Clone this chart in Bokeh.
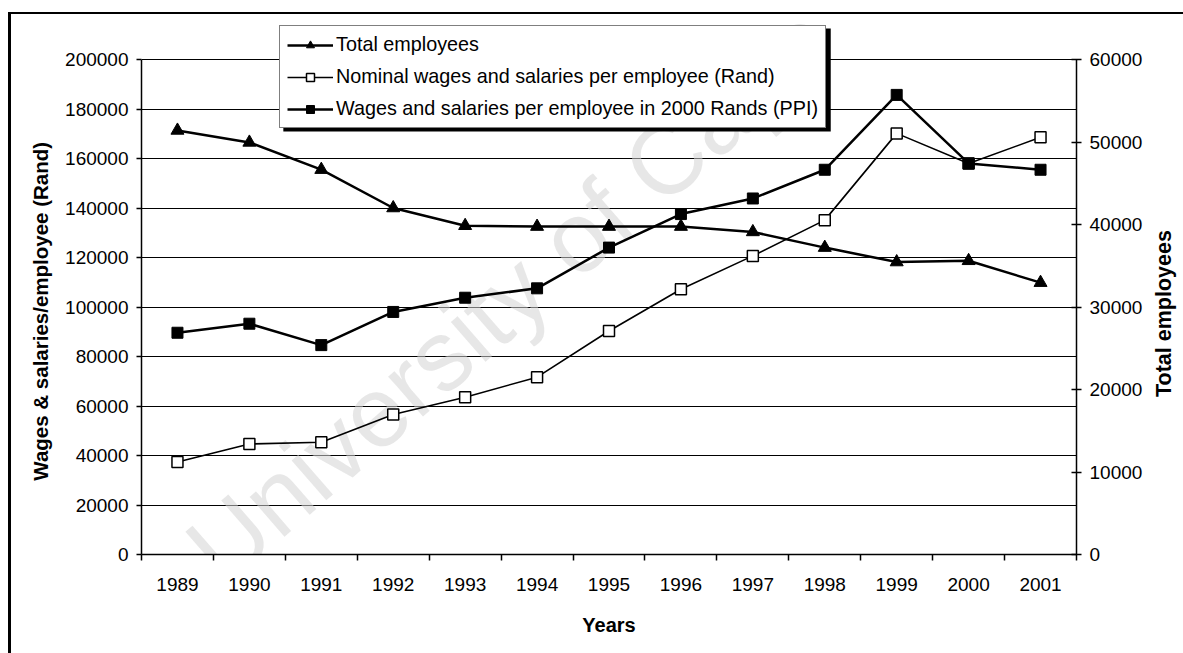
import math
from bokeh.plotting import figure
from bokeh.layouts import row
from bokeh.models import (LinearAxis, Range1d, FixedTicker, Legend, LegendItem,
                          Label, BoxAnnotation, NumeralTickFormatter, Div)
from bokeh.embed import file_html
from bokeh.resources import INLINE

# ---------------- data ----------------
years = [1989, 1990, 1991, 1992, 1993, 1994, 1995, 1996, 1997, 1998, 1999, 2000, 2001]
total_employees = [51400, 49950, 46650, 42000, 39850, 39750, 39750, 39750, 39100,
                   37200, 35450, 35600, 32950]
nominal_wages = [37400, 44650, 45350, 56550, 63550, 71650, 90300, 107150, 120650,
                 135100, 170150, 158000, 168550]
real_wages_2000 = [89600, 93250, 84600, 98000, 103750, 107550, 124000, 137550, 143850,
                   155450, 185700, 158000, 155450]
left_ticks = [0, 20000, 40000, 60000, 80000, 100000, 120000, 140000, 160000, 180000, 200000]
right_ticks = [0, 10000, 20000, 30000, 40000, 50000, 60000]
series_names = ["Total employees",
                "Nominal wages and salaries per employee (Rand)",
                "Wages and salaries per employee in 2000 Rands (PPI)"]
left_title = "Wages & salaries/employee (Rand)"
right_title = "Total employees"
x_title = "Years"
watermark = "University of Cape Town"

FONT = "Liberation Sans"
NBSP = "\u00a0"

# layout (pixels)
DIV_W = 38
FIG_W, FIG_H = 1172 - DIV_W, 639
FRAME_TOP_PAD = 8          # frame extends above the 200000 gridline to hold the legend
GRID_H = 495               # pixel height of the 0..200000 span
FRAME_H = 532              # pixel height of the frame
scale_up = FRAME_H / GRID_H

p = figure(width=FIG_W, height=FIG_H,
           x_range=Range1d(years[0] - 0.5, years[-1] + 0.5),
           y_range=Range1d(left_ticks[0], left_ticks[-1] * scale_up),
           output_backend="svg", toolbar_location=None,
           min_border_left=130, min_border_right=68,
           min_border_top=FRAME_TOP_PAD, min_border_bottom=99)
p.extra_y_ranges = {"emp": Range1d(right_ticks[0], right_ticks[-1] * scale_up)}
p.outline_line_color = None
p.background_fill_color = "white"
p.border_fill_color = "white"

# watermark
wm = Label(x=1989.85, y=-20200, text=watermark, angle=41, angle_units="deg",
           text_font=FONT, text_font_size="100px", text_color="#d4d4d4",
           text_alpha=0.55, level="underlay")
p.add_layout(wm)

# x axis
xa = p.xaxis[0]
xa.ticker = FixedTicker(ticks=years, minor_ticks=[y - 0.5 for y in years] + [years[-1] + 0.5])
xa.formatter = NumeralTickFormatter(format="0")
xa.major_tick_out = 0
xa.major_tick_in = 0
xa.minor_tick_out = 6
xa.minor_tick_in = 0
xa.minor_tick_line_color = "black"
xa.minor_tick_line_width = 1.5
xa.axis_line_color = "black"
xa.axis_line_width = 1.5
xa.major_label_text_font = FONT
xa.major_label_text_font_size = "19px"
xa.major_label_text_color = "black"
xa.major_label_standoff = 17
xa.axis_label = x_title
xa.axis_label_text_font = FONT
xa.axis_label_text_font_size = "20px"
xa.axis_label_text_font_style = "bold"
xa.axis_label_text_color = "black"
xa.axis_label_standoff = 20

# left axis
ya = p.yaxis[0]
ya.ticker = FixedTicker(ticks=left_ticks)
ya.formatter = NumeralTickFormatter(format="0")
ya.bounds = (left_ticks[0], left_ticks[-1])
ya.major_tick_out = 5
ya.major_tick_in = 0
ya.minor_tick_out = 0
ya.minor_tick_in = 0
ya.major_tick_line_width = 1.5
ya.axis_line_width = 1.5
ya.axis_line_color = "black"
ya.major_label_text_font = FONT
ya.major_label_text_font_size = "19px"
ya.major_label_text_color = "black"
ya.major_label_standoff = 8
ya.axis_label = left_title + NBSP * 8
ya.axis_label_text_font = FONT
ya.axis_label_text_font_size = "20.5px"
ya.axis_label_text_font_style = "bold"
ya.axis_label_text_color = "black"
ya.axis_label_standoff = 10

# right axis (its title is drawn beside the figure, reading bottom-to-top)
ra = LinearAxis(y_range_name="emp", ticker=FixedTicker(ticks=right_ticks),
                formatter=NumeralTickFormatter(format="0"),
                bounds=(right_ticks[0], right_ticks[-1]))
ra.major_tick_out = 5
ra.major_tick_in = 5
ra.minor_tick_out = 0
ra.minor_tick_in = 0
ra.major_tick_line_width = 1.5
ra.axis_line_width = 1.5
ra.axis_line_color = "black"
ra.major_label_text_font = FONT
ra.major_label_text_font_size = "19px"
ra.major_label_text_color = "black"
ra.major_label_standoff = 8
p.add_layout(ra, "right")

# grid
p.xgrid.visible = False
p.ygrid.ticker = FixedTicker(ticks=left_ticks)
p.ygrid.grid_line_color = "black"
p.ygrid.grid_line_width = 1.2
p.ygrid.grid_line_alpha = 1.0

# legend shadow (offset box behind the legend)
shadow = BoxAnnotation(left=years[0] + 1.472, right=years[0] + 9.083,
                       top=212500, bottom=170900,
                       fill_color="black", fill_alpha=1.0, line_color=None,
                       level="underlay")
p.add_layout(shadow)

# series
l_tot = p.line(years, total_employees, y_range_name="emp", line_color="black", line_width=2.5)
m_tot = p.scatter(years, total_employees, y_range_name="emp", marker="triangle", size=13,
                  fill_color="black", line_color="black")
l_nom = p.line(years, nominal_wages, line_color="black", line_width=1.6)
m_nom = p.scatter(years, nominal_wages, marker="square", size=11,
                  fill_color="white", line_color="black", line_width=1.5)
l_real = p.line(years, real_wages_2000, line_color="black", line_width=2.5)
m_real = p.scatter(years, real_wages_2000, marker="square", size=11,
                   fill_color="black", line_color="black")

legend = Legend(items=[LegendItem(label=series_names[0], renderers=[l_tot, m_tot]),
                       LegendItem(label=series_names[1], renderers=[l_nom, m_nom]),
                       LegendItem(label=series_names[2], renderers=[l_real, m_real])],
                location=(138, 426), orientation="vertical",
                label_text_font=FONT, label_text_font_size="19.8px", label_text_color="black",
                glyph_width=46, glyph_height=20, label_height=20, label_standoff=3,
                spacing=9, padding=7, margin=0,
                border_line_color="black", border_line_width=1.5,
                background_fill_color="white", background_fill_alpha=1.0)
p.add_layout(legend)

title_html = (
    '<div style="width:max-content; white-space:nowrap; '
    "font-family:'Liberation Sans', Arial, sans-serif; font-weight:bold; "
    'font-size:21.5px; line-height:25px; color:black; '
    'transform-origin:0 0; transform:translate(2px, 378px) rotate(-90deg);">'
    + right_title + '</div>'
)
right_title_div = Div(text=title_html, width=DIV_W, height=FIG_H,
                      styles={"background-color": "white", "overflow": "visible"})

layout = row(p, right_title_div,
             styles={"border-top": "2px solid black", "border-left": "3px solid black",
                     "margin-top": "12px", "margin-left": "8px",
                     "background-color": "white"})

open("out.html", "w").write(file_html(layout, INLINE))
